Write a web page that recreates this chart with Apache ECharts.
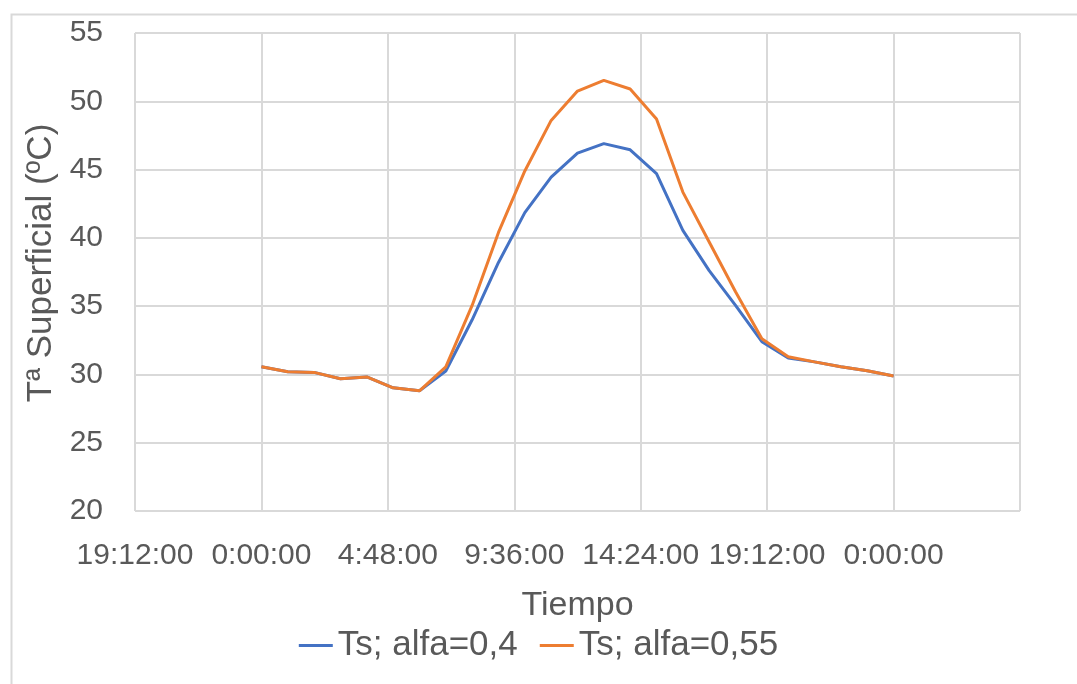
<!DOCTYPE html>
<html>
<head>
<meta charset="utf-8">
<script src="https://cdn.jsdelivr.net/npm/echarts@6/dist/echarts.min.js"></script>
<style>
  html, body { margin: 0; padding: 0; background: #ffffff; }
  #chart { width: 1077px; height: 684px; }
</style>
</head>
<body>
<div id="chart"></div>
<script>
// Hours of the day (0 = 0:00:00, 24 = 0:00:00 next day)
const hours = [0, 1, 2, 3, 4, 5, 6, 7, 8, 9, 10, 11, 12, 13, 14, 15, 16, 17, 18, 19, 20, 21, 22, 23, 24];

// Surface temperature (ºC) for two absorptance values
const tsAlfa040 = [30.56, 30.19, 30.15, 29.68, 29.82, 29.02, 28.80, 30.25, 34.0, 38.2, 41.85, 44.45, 46.2, 46.9, 46.45, 44.7, 40.55, 37.6, 35.05, 32.4, 31.2, 30.92, 30.56, 30.27, 29.88];
const tsAlfa055 = [30.56, 30.19, 30.15, 29.68, 29.82, 29.02, 28.80, 30.55, 35.05, 40.4, 44.9, 48.6, 50.75, 51.53, 50.9, 48.7, 43.35, 39.7, 36.05, 32.62, 31.3, 30.92, 30.56, 30.27, 29.88];

const seriesNames = ['Ts; alfa=0,4', 'Ts; alfa=0,55'];
const xTitle = 'Tiempo';
const yTitle = 'Tª Superficial (ºC)';

const textColor = '#595959';
const gridColor = '#d9d9d9';
const fontFamily = '"Liberation Sans", Arial, sans-serif';

// hours -> h:mm:ss, wrapped into a single day
function fmtTime(h) {
  let totalSec = Math.round(h * 3600);
  totalSec = ((totalSec % 86400) + 86400) % 86400;
  const hh = Math.floor(totalSec / 3600);
  const mm = Math.floor((totalSec % 3600) / 60);
  const ss = totalSec % 60;
  return hh + ':' + String(mm).padStart(2, '0') + ':' + String(ss).padStart(2, '0');
}

const chart = echarts.init(document.getElementById('chart'), null, { renderer: 'canvas' });

chart.setOption({
  backgroundColor: '#ffffff',
  animation: false,
  graphic: [{
    type: 'rect',
    left: 9, top: 12,
    shape: { width: 1120, height: 720 },
    style: { fill: 'none', stroke: gridColor, lineWidth: 2 },
    silent: true
  }],
  grid: { left: 135, right: 57, top: 33, bottom: 173, containLabel: false },
  legend: {
    bottom: 16,
    left: 'center',
    itemGap: 22,
    itemWidth: 34,
    itemHeight: 3,
    icon: 'rect',
    textStyle: { color: textColor, fontSize: 35, fontFamily: fontFamily },
    data: seriesNames
  },
  xAxis: {
    type: 'value',
    min: -4.8,
    max: 28.8,
    interval: 4.8,
    name: xTitle,
    nameLocation: 'middle',
    nameGap: 78,
    nameTextStyle: { color: textColor, fontSize: 34, fontFamily: fontFamily },
    axisLine: { show: false },
    axisTick: { show: false },
    axisLabel: {
      color: textColor, fontSize: 30, fontFamily: fontFamily, margin: 30,
      showMaxLabel: false,
      formatter: function (v) { return v >= 28.7 ? '' : fmtTime(v); }
    },
    splitLine: { show: true, lineStyle: { color: gridColor, width: 2 } }
  },
  yAxis: {
    type: 'value',
    min: 20,
    max: 55,
    interval: 5,
    name: yTitle,
    nameLocation: 'middle',
    nameGap: 76,
    nameTextStyle: { color: textColor, fontSize: 35, fontFamily: fontFamily, padding: [0, 0, 0, 18] },
    axisLine: { show: false },
    axisTick: { show: false },
    axisLabel: { color: textColor, fontSize: 30, fontFamily: fontFamily, margin: 32 },
    splitLine: { show: true, lineStyle: { color: gridColor, width: 2 } }
  },
  series: [
    {
      name: seriesNames[0],
      type: 'line',
      data: hours.map((h, i) => [h, tsAlfa040[i]]),
      showSymbol: false,
      symbol: 'none',
      lineStyle: { color: '#4472C4', width: 3 },
      itemStyle: { color: '#4472C4' },
      z: 2
    },
    {
      name: seriesNames[1],
      type: 'line',
      data: hours.map((h, i) => [h, tsAlfa055[i]]),
      showSymbol: false,
      symbol: 'none',
      lineStyle: { color: '#ED7D31', width: 3 },
      itemStyle: { color: '#ED7D31' },
      z: 3
    }
  ]
});
</script>
</body>
</html>
